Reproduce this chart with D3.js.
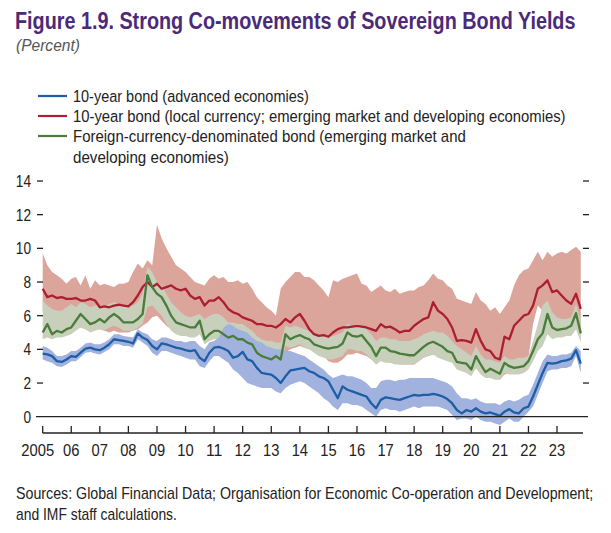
<!DOCTYPE html>
<html><head><meta charset="utf-8">
<script src="https://cdn.jsdelivr.net/npm/d3@7"></script>
<style>
body{margin:0;background:#fff;}
svg text{font-family:"Liberation Sans",Arial,sans-serif;}
</style></head><body>
<svg id="c" width="611" height="533"></svg>
<script>
const startYear = 2005;
const yTicks = [0, 2, 4, 6, 8, 10, 12, 14];
const xTickYears = d3.range(2005, 2024);
const xTickLabels = ["2005","06","07","08","09","10","11","12","13","14","15","16","17","18","19","20","21","22","23"];
const legendLabels = [
  ["10-year bond (advanced economies)"],
  ["10-year bond (local currency; emerging market and developing economies)"],
  ["Foreign-currency-denominated bond (emerging market and", "developing economies)"]
];
// bimonthly observations, Jan 2005 .. Nov 2023
const advLine = [
3.75,3.7,3.6,3.3,3.25,3.4, 3.6,3.55,3.8,4.05,4.1,4.0, 3.95,4.1,4.3,4.6,4.55,4.5, 4.45,4.35,4.95,4.7,4.55,4.2,
4.0,4.35,4.3,4.2,4.1,4.05, 3.95,3.9,3.95,3.5,3.3,3.8, 4.1,4.15,4.05,3.9,3.5,3.6, 3.85,3.4,3.3,2.9,2.6,2.55,
2.5,2.3,2.0,2.4,2.75,2.8, 2.85,2.9,2.7,2.6,2.4,2.3, 2.1,1.6,1.1,1.8,1.6,1.5, 1.4,1.3,1.2,0.8,0.5,1.0,
1.15,1.1,1.05,1.0,1.1,1.2, 1.3,1.25,1.3,1.3,1.35,1.3, 1.2,1.05,0.8,0.4,0.2,0.4, 0.3,0.5,0.3,0.2,0.25,0.15,
0.05,0.3,0.45,0.25,0.2,0.5, 0.6,1.2,1.9,2.6,3.2,3.15, 3.2,3.3,3.35,3.45,3.95,3.15];
const advHigh = [
4.2,4.1,3.9,3.6,3.6,3.7, 3.9,3.9,4.1,4.35,4.4,4.3, 4.3,4.4,4.6,4.9,4.9,4.8, 4.75,4.7,5.2,5.0,4.9,4.6,
4.5,4.7,4.7,4.6,4.5,4.5, 4.4,4.5,4.5,4.2,4.0,4.4, 4.5,4.7,5.3,5.5,5.4,5.2, 5.1,5.0,4.7,4.5,4.4,4.2,
4.1,4.0,4.0,3.9,3.9,3.8, 3.7,3.6,3.4,3.2,3.0,2.8, 2.5,2.3,2.4,2.5,2.4,2.4, 2.3,2.2,2.0,1.7,1.7,2.1,
2.2,2.2,2.1,2.2,2.2,2.3, 2.3,2.3,2.3,2.3,2.3,2.2, 2.1,2.0,1.8,1.4,1.1,1.1, 1.0,1.1,0.9,0.8,0.8,0.8,
0.7,0.9,1.0,0.9,1.0,1.2, 1.3,1.9,2.6,3.3,3.7,3.6, 3.6,3.7,3.7,3.8,4.2,3.9];
const advLow = [
3.4,3.3,3.2,3.0,2.95,3.1, 3.3,3.3,3.55,3.8,3.85,3.75, 3.7,3.85,4.0,4.3,4.3,4.2, 4.2,4.1,4.6,4.4,4.2,3.8,
3.6,3.9,3.9,3.8,3.7,3.6, 3.5,3.4,3.4,3.0,2.9,3.3, 3.6,3.6,3.4,3.2,2.8,2.6, 2.3,2.0,1.9,1.8,1.7,1.7,
1.7,1.5,1.4,1.7,1.9,2.0, 2.1,2.0,1.8,1.6,1.4,1.1, 0.9,0.6,0.4,0.8,0.8,0.7, 0.7,0.6,0.4,0.2,0.0,0.4,
0.5,0.4,0.4,0.3,0.4,0.5, 0.6,0.5,0.6,0.6,0.6,0.6, 0.5,0.4,0.1,-0.2,-0.1,-0.1, -0.2,0.0,-0.2,-0.3,-0.3,-0.4,
-0.5,-0.3,-0.1,-0.3,-0.3,0.0, 0.3,0.6,1.3,2.0,2.7,2.8, 2.8,2.9,2.9,3.0,3.6,2.6];
const emLocalLine = [
7.6,7.1,7.2,7.05,7.1,7.0, 7.0,7.05,6.9,6.9,7.0,6.9, 6.5,6.55,6.5,6.6,6.65,6.6, 6.55,6.8,7.2,7.7,8.0,7.7,
7.9,7.6,7.7,7.8,7.6,7.5, 7.6,7.2,7.0,7.1,6.6,6.9, 6.9,7.1,6.8,6.4,6.2,6.1, 5.9,5.8,5.7,5.5,5.5,5.4,
5.4,5.3,5.5,5.8,5.6,5.9, 6.1,5.7,5.2,4.9,4.8,4.85, 4.75,5.0,5.2,5.3,5.3,5.35, 5.4,5.35,5.3,5.2,5.1,5.5,
5.3,5.35,5.2,5.0,5.1,5.1, 5.4,5.6,5.8,5.9,6.8,6.3, 6.1,5.8,5.3,4.5,4.55,4.5, 4.4,5.2,4.5,4.0,3.9,3.5,
3.4,4.75,4.6,5.4,5.7,6.0, 6.1,6.6,7.6,7.8,8.1,7.4, 7.5,7.2,6.9,6.7,7.3,6.4];
const emLocalHigh = [
9.7,9.0,8.6,8.4,8.2,7.9, 8.2,8.3,7.8,8.4,7.6,8.1, 7.8,7.9,7.8,7.7,7.9,7.9, 8.0,8.6,9.1,8.8,9.3,9.0,
11.4,10.6,10.0,9.5,9.0,8.8, 8.6,8.3,8.0,7.9,7.8,8.2, 8.4,8.2,8.3,8.0,8.0,8.1, 7.9,8.0,7.6,7.1,6.8,6.5,
6.3,6.0,7.6,8.0,8.3,8.6, 8.6,8.3,8.3,8.1,7.8,7.5, 7.1,8.1,8.0,8.2,8.3,8.4, 8.5,7.9,7.8,7.4,7.6,7.8,
7.5,7.4,7.6,7.3,7.4,7.5, 7.5,7.7,7.8,8.1,8.5,8.2, 8.1,7.8,7.6,7.0,6.9,6.8, 6.7,7.4,6.9,6.7,6.3,6.5,
6.1,6.5,6.9,7.8,8.4,8.7, 8.8,9.3,9.8,9.3,9.8,9.5, 9.7,9.8,9.7,9.9,10.1,9.8];
const emLocalLow = [
6.3,5.8,5.6,5.5,5.6,5.5, 5.4,5.3,5.3,5.2,5.1,5.2, 5.2,5.1,5.0,5.1,5.0,5.0, 5.0,5.1,5.2,5.4,5.6,5.9,
6.0,5.7,5.4,5.2,5.0,5.1, 5.3,5.4,5.5,5.3,5.2,5.3, 5.2,5.1,5.0,4.8,4.7,4.6, 4.5,4.4,4.2,4.0,3.9,3.8,
3.7,3.6,3.5,3.8,4.0,4.1, 4.2,4.1,4.0,3.9,3.8,3.6, 3.3,3.2,3.2,3.4,3.7,3.7, 3.8,3.7,3.6,3.4,3.3,3.4,
3.3,3.2,3.2,3.1,3.1,3.1, 3.1,3.3,3.5,3.6,3.7,3.6, 3.5,3.4,3.3,3.0,2.9,2.8, 2.5,2.9,2.6,2.4,2.3,2.3,
2.2,2.5,2.6,2.7,2.8,2.9, 3.5,5.5,6.6,6.3,5.9,5.6, 5.4,5.2,5.2,5.3,5.5,5.2];
const emFxLine = [
5.0,5.5,4.9,5.1,5.0,5.2, 5.3,5.7,6.1,5.8,5.5,5.6, 5.8,5.6,5.9,6.1,5.9,5.6, 5.6,5.6,5.8,6.1,8.4,7.7,
7.3,7.1,6.6,6.0,5.6,5.5, 5.4,5.3,5.3,5.7,4.6,4.9, 5.1,5.1,4.9,4.7,4.8,4.6, 4.6,4.4,4.3,3.8,3.6,3.5,
3.4,3.6,3.4,4.9,4.6,4.75, 4.85,4.7,4.6,4.3,4.2,4.1, 4.05,4.1,4.15,4.35,5.0,4.8, 4.75,4.85,4.5,4.15,3.6,4.1,
4.1,3.9,3.85,3.75,3.7,3.65, 3.65,3.9,4.15,4.35,4.45,4.3, 4.15,3.9,3.8,3.25,3.2,3.15, 2.8,3.6,3.1,2.65,2.85,2.7,
2.55,3.2,3.0,2.9,2.95,3.0, 3.3,3.9,4.6,4.95,6.1,5.3, 5.15,5.2,5.25,5.4,6.15,4.95];
const emFxHigh = [
6.9,6.6,6.4,6.3,6.3,6.5, 6.7,6.5,6.8,6.7,6.5,6.6, 6.6,6.5,6.7,6.8,6.7,6.6, 6.6,6.6,6.8,7.3,8.9,8.6,
8.0,7.8,7.3,6.8,6.5,6.2, 6.0,5.9,6.0,6.1,5.8,6.0, 6.1,6.1,5.9,5.6,5.6,5.5, 5.5,5.3,5.1,4.8,4.6,4.5,
4.5,4.4,4.4,5.4,5.3,5.4, 5.3,5.2,5.1,4.9,4.8,4.8, 4.75,4.8,4.9,5.0,5.5,5.4, 5.5,5.4,5.2,4.9,4.5,4.7,
4.7,4.6,4.6,4.5,4.5,4.5, 4.6,4.7,4.9,5.0,5.1,5.0, 5.0,4.8,4.5,4.2,4.0,3.8, 3.6,4.2,3.7,3.4,3.4,3.3,
3.2,3.6,3.4,3.4,3.5,3.5, 3.6,4.5,5.5,6.6,6.9,6.2, 5.9,5.8,5.8,5.9,6.7,5.7];
const emFxLow = [
4.6,4.7,4.6,4.7,4.7,4.8, 4.9,5.1,5.3,5.2,5.0,5.1, 5.2,5.1,5.3,5.4,5.3,5.1, 5.1,5.1,5.3,5.5,6.5,6.6,
6.3,6.0,5.5,5.1,4.9,4.8, 4.8,4.7,4.7,4.9,4.3,4.5, 4.6,4.6,4.4,4.3,4.2,4.1, 4.0,3.9,3.8,3.4,3.3,3.2,
3.1,3.2,3.1,4.2,4.1,4.2, 4.3,4.1,4.0,3.8,3.6,3.5, 3.4,3.4,3.5,3.6,4.0,4.0, 3.9,3.9,3.7,3.4,3.1,3.3,
3.2,3.2,3.1,3.1,3.1,3.1, 3.1,3.3,3.5,3.6,3.7,3.5, 3.4,3.3,3.2,2.8,2.7,2.6, 2.4,2.9,2.5,2.3,2.3,2.2,
2.2,2.6,2.5,2.5,2.5,2.6, 2.8,3.3,3.9,4.2,4.9,4.6, 4.7,4.7,4.8,4.8,5.2,4.4];

const dates = advLine.map((_, i) => new Date(startYear, i * 2, 1));

const svg = d3.select("#c");
const x = d3.scaleTime().domain([new Date(2005,0,1), new Date(2023,0,1)]).range([42.7, 557]);
const y = d3.scaleLinear().domain([0, 14]).range([416.7, 181]);

// helper: text horizontally scaled to a target width (reference uses a condensed face)
function txt(xp, yp, s, size, w, opts = {}) {
  const t = svg.append("text").attr("x", 0).attr("y", 0).attr("font-size", size)
    .attr("fill", opts.fill || "#222").text(s);
  if (opts.anchor) t.attr("text-anchor", opts.anchor);
  if (opts.weight) t.attr("font-weight", opts.weight);
  if (opts.style) t.attr("font-style", opts.style);
  let sx = 1;
  if (w) { const nat = t.node().getComputedTextLength(); if (nat > 0) sx = w / nat; }
  t.attr("transform", `translate(${xp},${yp}) scale(${sx},1)`);
  return t;
}

// title
txt(15, 29, "Figure 1.9. Strong Co-movements of Sovereign Bond Yields", 23, 561, {weight: "bold", fill: "#4b2a78"});
txt(16, 51, "(Percent)", 17, 64, {style: "italic", fill: "#555"});

// legend
const legColors = ["#1d5ea5", "#ad1e32", "#4a7d3c"];
const legY = [96, 116, 136];
const legW = [[236], [493], [393, 156]];
legendLabels.forEach((lines, i) => {
  svg.append("line").attr("x1", 38).attr("x2", 67).attr("y1", legY[i]).attr("y2", legY[i])
    .attr("stroke", legColors[i]).attr("stroke-width", 2.2);
  lines.forEach((t, j) => txt(73, legY[i] + 6 + j * 21, t, 17, legW[i][j]));
});

// bands
const area = (lo, hi) => d3.area().x((d, i) => x(dates[i])).y0((d, i) => y(lo[i])).y1((d, i) => y(hi[i]))(dates);
svg.append("path").attr("d", area(emLocalLow, emLocalHigh)).attr("fill", "#dba59c");
svg.append("path").attr("d", area(emFxLow, emFxHigh)).attr("fill", "#c8cfba");
svg.append("path").attr("d", area(advLow, advHigh)).attr("fill", "#a2b2df");

// lines
const line = vals => d3.line().x((d, i) => x(dates[i])).y((d, i) => y(vals[i]))(dates);
[[advLine, legColors[0]], [emLocalLine, legColors[1]], [emFxLine, legColors[2]]].forEach(([v, c]) => {
  svg.append("path").attr("d", line(v)).attr("fill", "none").attr("stroke", c)
    .attr("stroke-width", 2.3).attr("stroke-linejoin", "round");
});

// zero line
svg.append("line").attr("x1", 36).attr("x2", 588).attr("y1", y(0)).attr("y2", y(0))
  .attr("stroke", "#222").attr("stroke-width", 1.3);

// y axis labels and ticks
yTicks.forEach(v => {
  const s = String(v);
  txt(31, y(v) + 6, s, 17, s.length * 7.6, {anchor: "end"});
  if (v > 0) {
    svg.append("line").attr("x1", 37).attr("x2", 43).attr("y1", y(v)).attr("y2", y(v)).attr("stroke", "#222").attr("stroke-width", 1.3);
    svg.append("line").attr("x1", 583).attr("x2", 589).attr("y1", y(v)).attr("y2", y(v)).attr("stroke", "#222").attr("stroke-width", 1.3);
  }
});

// x axis
const xAxisY = 433;
svg.append("line").attr("x1", x(new Date(2005,0,1))).attr("x2", 583).attr("y1", xAxisY).attr("y2", xAxisY)
  .attr("stroke", "#222").attr("stroke-width", 1.3);
xTickYears.forEach((yr, i) => {
  const xp = x(new Date(yr, 0, 1));
  svg.append("line").attr("x1", xp).attr("x2", xp).attr("y1", xAxisY).attr("y2", xAxisY - 7)
    .attr("stroke", "#222").attr("stroke-width", 1.3);
  const s = xTickLabels[i];
  txt(i === 0 ? xp - 5 : xp, 456, s, 17, s.length * 8.2, {anchor: "middle"});
});

// sources
txt(16, 499, "Sources: Global Financial Data; Organisation for Economic Co-operation and Development;", 16, 578);
txt(16, 520, "and IMF staff calculations.", 16, 161);
</script>
</body></html>
